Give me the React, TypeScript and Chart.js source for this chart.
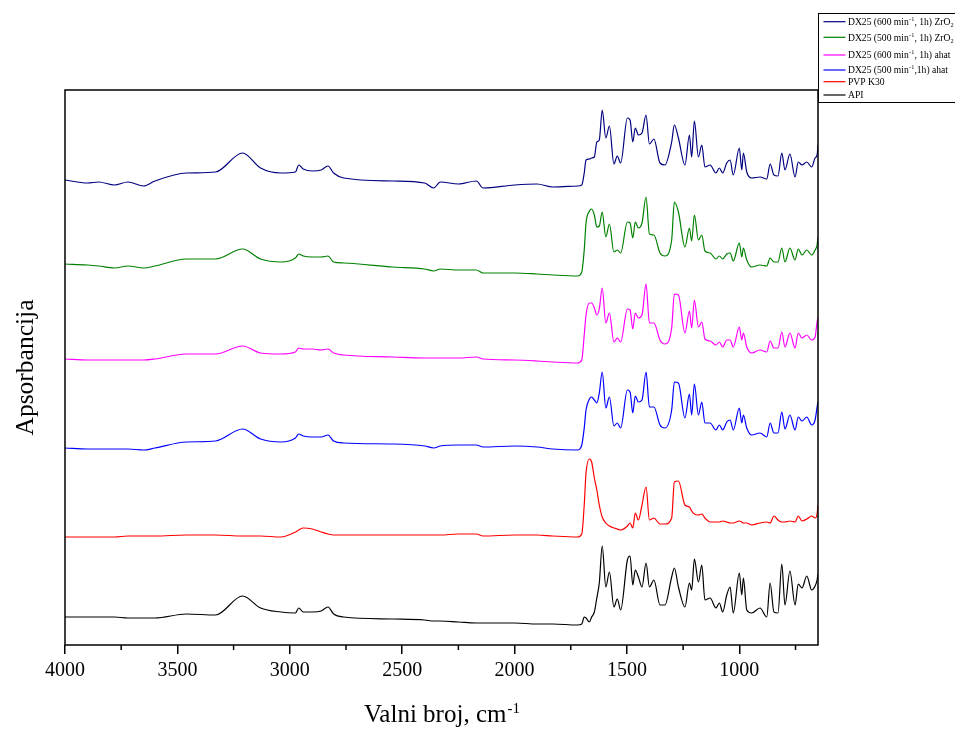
import React, { useEffect, useRef } from 'react';
import { Chart, registerables } from 'chart.js';

Chart.register(...registerables);

// Wavenumber grid (cm^-1) shared by all spectra
const WAVENUMBERS = [
  4000, 3900, 3850, 3780, 3720, 3650, 3600, 3460, 3330, 3210, 3130, 3040, 2975, 2960, 2940, 2900,
  2860, 2830, 2805, 2760, 2540, 2400, 2360, 2330, 2250, 2170, 2140, 2000, 1900, 1830, 1720,
  1701, 1690, 1682, 1667, 1657, 1645, 1634, 1623, 1610, 1594, 1578, 1558, 1543, 1528, 1498, 1486,
  1474, 1463, 1449, 1433, 1415, 1400, 1380, 1353, 1331, 1301, 1289, 1271, 1242, 1222, 1212, 1200,
  1182, 1167, 1153, 1130, 1104, 1089, 1074, 1056, 1041, 1027, 1000, 989, 982, 967, 945, 908, 878,
  863, 846, 828, 811, 797, 775, 752, 738, 721, 700, 678, 663, 654, 650,
];

// Absorbance (arbitrary units, offset stacked)
const DX25_600_ZRO2 = [
  465, 462, 463, 460, 463, 459, 464, 472, 473, 492, 477, 472, 473, 480, 476, 474,
  475, 479, 472, 467, 464, 462, 457, 463, 461, 464, 457, 460, 461, 458, 459,
  460, 472, 485, 486, 487, 488, 503, 505, 535, 507, 519, 481, 489, 482, 527, 525,
  503, 517, 510, 512, 530, 501, 506, 482, 480, 503, 520, 507, 480, 510, 488, 524,
  488, 500, 478, 480, 472, 477, 472, 482, 485, 470, 497, 475, 492, 473, 467, 468, 466,
  481, 470, 469, 492, 475, 491, 468, 483, 480, 483, 478, 487, 490, 500,
];
const DX25_500_ZRO2 = [
  381, 380, 379, 377, 379, 377, 379, 386, 386, 396, 386, 383, 387, 391, 389, 388,
  388, 389, 383, 382, 378, 376, 374, 376, 375, 375, 372, 372, 371, 370, 369,
  373, 395, 422, 434, 436, 430, 418, 419, 433, 408, 421, 393, 395, 392, 423, 422,
  407, 423, 417, 422, 448, 411, 410, 392, 389, 405, 443, 433, 398, 417, 404, 430,
  405, 410, 394, 392, 386, 389, 386, 391, 392, 384, 402, 388, 397, 385, 378, 380, 379,
  387, 383, 383, 397, 383, 397, 385, 396, 390, 395, 390, 395, 400, 408,
];
const DX25_600_AHAT = [
  286, 285, 285, 285, 285, 285, 286, 291, 291, 299, 292, 291, 293, 297, 296, 296,
  295, 296, 292, 290, 288, 287, 287, 287, 287, 288, 286, 285, 284, 283, 282,
  285, 310, 330, 342, 342, 337, 330, 336, 357, 322, 332, 303, 307, 303, 336, 335,
  316, 332, 327, 330, 361, 322, 322, 305, 301, 317, 351, 350, 312, 334, 317, 345,
  318, 323, 306, 304, 300, 303, 298, 305, 305, 298, 318, 305, 312, 298, 292, 295, 293,
  304, 297, 297, 313, 298, 312, 297, 312, 307, 310, 305, 308, 323, 327,
];
const DX25_500_AHAT = [
  197, 196, 196, 196, 196, 195, 197, 203, 204, 216, 206, 203, 207, 211, 209, 208,
  208, 210, 204, 202, 201, 199, 197, 199, 200, 200, 198, 199, 198, 196, 195,
  200, 217, 235, 246, 248, 245, 242, 252, 273, 237, 248, 219, 222, 217, 255, 253,
  232, 249, 243, 245, 273, 238, 238, 220, 217, 235, 263, 262, 227, 251, 230, 261,
  230, 243, 222, 222, 215, 220, 215, 223, 225, 215, 237, 222, 230, 217, 210, 212, 208,
  222, 212, 212, 233, 216, 230, 215, 228, 224, 228, 220, 225, 238, 243,
];
const PVP_K30 = [
  108, 108, 108, 108, 109, 109, 109, 110, 110, 109, 109, 108, 113, 115, 117, 116,
  113, 111, 110, 110, 110, 110, 110, 110, 111, 111, 109, 110, 110, 109, 108,
  111, 140, 172, 186, 183, 167, 155, 140, 128, 122, 119, 117, 116, 115, 119, 122,
  117, 132, 125, 140, 158, 125, 127, 121, 121, 127, 163, 164, 140, 138, 134, 131,
  130, 131, 127, 123, 123, 123, 124, 123, 122, 122, 124, 123, 122, 122, 120, 122, 123,
  122, 129, 125, 123, 123, 124, 123, 129, 124, 126, 129, 127, 131, 140,
];
const API = [
  28, 28, 28, 28, 27, 27, 27, 31, 30, 49, 37, 33, 32, 37, 33, 33,
  34, 38, 31, 28, 26, 25, 24, 24, 23, 22, 22, 22, 21, 21, 20,
  21, 28, 27, 23, 28, 33, 47, 62, 99, 58, 73, 38, 46, 35, 85, 89,
  60, 75, 68, 58, 82, 58, 65, 40, 40, 68, 77, 58, 38, 62, 55, 86,
  63, 80, 45, 47, 37, 42, 33, 50, 58, 32, 72, 50, 67, 35, 32, 37, 28,
  62, 33, 32, 81, 40, 74, 40, 61, 57, 69, 55, 59, 65, 71,
];

const X_MAJOR_TICKS = [4000, 3500, 3000, 2500, 2000, 1500, 1000];
const X_MINOR_TICKS = [3750, 3250, 2750, 2250, 1750, 1250, 750];
const X_MIN = 650;
const X_MAX = 4000;
const Y_MIN = 0;
const Y_MAX = 555;

type Part = [string, 'n' | 'sup' | 'sub'];

const SERIES_LABELS: Part[][] = [
  [['DX25 (600 min', 'n'], ['-1', 'sup'], [', 1h) ZrO', 'n'], ['2', 'sub']],
  [['DX25 (500 min', 'n'], ['-1', 'sup'], [', 1h) ZrO', 'n'], ['2', 'sub']],
  [['DX25 (600 min', 'n'], ['-1', 'sup'], [', 1h) ahat', 'n']],
  [['DX25 (500 min', 'n'], ['-1', 'sup'], [',1h) ahat', 'n']],
  [['PVP K30', 'n']],
  [['API', 'n']],
];
const SERIES_VALUES = [DX25_600_ZRO2, DX25_500_ZRO2, DX25_600_AHAT, DX25_500_AHAT, PVP_K30, API];
const SERIES_COLORS = ['#000080', '#008000', '#ff00ff', '#0000ff', '#ff0000', '#000000'];

const SERIF = "'Liberation Serif', 'Times New Roman', serif";

const framePlugin = {
  id: 'framePlugin',
  afterDraw(chart: any) {
    const { ctx, chartArea: ca, scales } = chart;
    ctx.save();
    // frame
    ctx.strokeStyle = '#000';
    ctx.lineWidth = 1.5;
    ctx.strokeRect(ca.left, ca.top, ca.right - ca.left, ca.bottom - ca.top);
    // minor ticks
    ctx.beginPath();
    for (const v of X_MINOR_TICKS) {
      const x = scales.x.getPixelForValue(v);
      ctx.moveTo(x, ca.bottom);
      ctx.lineTo(x, ca.bottom + 5);
    }
    ctx.stroke();

    // x title with superscript
    ctx.fillStyle = '#000';
    ctx.textBaseline = 'alphabetic';
    ctx.textAlign = 'left';
    const mainFont = `25px ${SERIF}`;
    const supFont = `15px ${SERIF}`;
    ctx.font = mainFont;
    const t1 = 'Valni broj, cm';
    const w1 = ctx.measureText(t1).width;
    ctx.font = supFont;
    const t2 = '-1';
    const w2 = ctx.measureText(t2).width;
    const cx = (ca.left + ca.right) / 2;
    const x0 = cx - (w1 + w2) / 2;
    const base = ca.bottom + 77;
    ctx.font = mainFont;
    ctx.fillText(t1, x0, base);
    ctx.font = supFont;
    ctx.fillText(t2, x0 + w1 + 1, base - 9);

    // legend
    const lx = ca.right + 0.5;
    const ly = 13.5;
    ctx.lineWidth = 1;
    ctx.strokeStyle = '#000';
    ctx.strokeRect(lx, ly, 200, 89);
    const rows = [21.7, 37.3, 55, 70, 81.7, 95];
    chart.data.datasets.forEach((ds: any, i: number) => {
      const y = rows[i];
      ctx.strokeStyle = ds.borderColor;
      ctx.lineWidth = 1.2;
      ctx.beginPath();
      ctx.moveTo(lx + 5, y);
      ctx.lineTo(lx + 27, y);
      ctx.stroke();
      let x = lx + 29.5;
      const parts: Part[] = SERIES_LABELS[i];
      ctx.fillStyle = '#000';
      for (const [txt, mode] of parts) {
        if (mode === 'n') {
          ctx.font = `9.6px ${SERIF}`;
          ctx.fillText(txt, x, y + 3.3);
        } else if (mode === 'sup') {
          ctx.font = `6.3px ${SERIF}`;
          ctx.fillText(txt, x + 0.3, y - 0.8);
        } else {
          ctx.font = `6.3px ${SERIF}`;
          ctx.fillText(txt, x + 0.1, y + 5.6);
        }
        x += ctx.measureText(txt).width + (mode === 'n' ? 0 : 0.4);
      }
    });
    ctx.restore();
  },
};

export default function App() {
  const canvasRef = useRef<HTMLCanvasElement | null>(null);

  useEffect(() => {
    if (!canvasRef.current) return;
    const datasets = SERIES_VALUES.map((vals, i) => ({
      label: SERIES_LABELS[i].map((p) => p[0]).join(''),
      data: WAVENUMBERS.map((w, j) => ({ x: w, y: vals[j] })),
      borderColor: SERIES_COLORS[i],
      backgroundColor: SERIES_COLORS[i],
      borderWidth: 1.2,
      pointRadius: 0,
      fill: false,
      cubicInterpolationMode: 'monotone',
    }));
    const chart = new Chart(canvasRef.current, {
      type: 'line',
      data: { datasets },
      options: {
        animation: false,
        responsive: false,
        devicePixelRatio: 1,
        layout: { padding: { left: 0, right: 137, top: 90, bottom: 43 } },
        plugins: { legend: { display: false }, tooltip: { enabled: false } },
        scales: {
          x: {
            type: 'linear',
            reverse: true,
            min: X_MIN,
            max: X_MAX,
            afterBuildTicks: (axis: any) => {
              axis.ticks = X_MAJOR_TICKS.map((v) => ({ value: v }));
            },
            ticks: {
              color: '#000',
              font: { family: SERIF, size: 20 },
              padding: 5,
              maxRotation: 0,
              autoSkip: false,
              callback: (v: any) => String(v),
            },
            grid: {
              drawOnChartArea: false,
              drawTicks: true,
              tickLength: 9,
              color: '#000',
              lineWidth: 1.5,
            },
            border: { display: false },
          },
          y: {
            type: 'linear',
            min: Y_MIN,
            max: Y_MAX,
            ticks: { display: false },
            grid: { display: false, drawTicks: false },
            border: { display: false },
            title: {
              display: true,
              text: 'Apsorbancija',
              color: '#000',
              font: { family: SERIF, size: 25.5, weight: 'normal' },
              padding: { top: 10.7, bottom: 23.7 },
            },
          },
        },
      },
      plugins: [framePlugin],
    } as any);
    return () => chart.destroy();
  }, []);

  return (
    <div style={{ position: 'absolute', left: 0, top: 0, width: 955, height: 731, background: '#fff' }}>
      <canvas ref={canvasRef} width={955} height={731} />
    </div>
  );
}
